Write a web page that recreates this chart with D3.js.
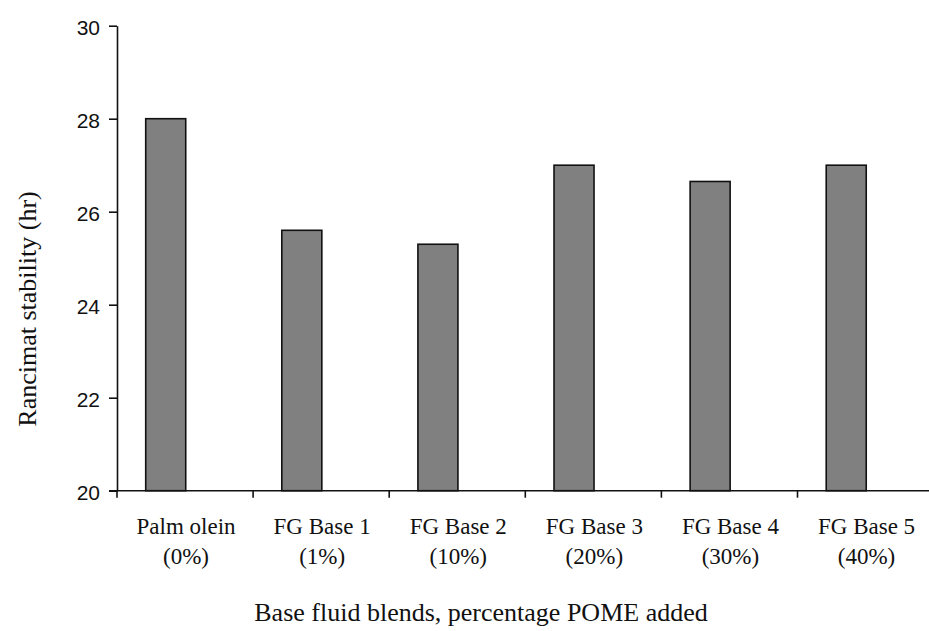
<!DOCTYPE html>
<html>
<head>
<meta charset="utf-8">
<script src="https://cdn.jsdelivr.net/npm/d3@7"></script>
<style>
  html, body { margin: 0; padding: 0; background: #fff; }
  svg { display: block; }
</style>
</head>
<body>
<svg id="chart" width="929" height="631"></svg>
<script>
const categories = ["Palm olein", "FG Base 1", "FG Base 2", "FG Base 3", "FG Base 4", "FG Base 5"];
const subLabels = ["(0%)", "(1%)", "(10%)", "(20%)", "(30%)", "(40%)"];
const values = [28.0, 25.6, 25.3, 27.0, 26.65, 27.0];
const yTicks = [20, 22, 24, 26, 28, 30];

(function () {
const svg = d3.select("#chart");
const mLeft = 117, mRight = 933.6, mTop = 25.7, mBottom = 490.7;

const x = d3.scaleBand().domain(categories).range([mLeft, mRight]).padding(0);
const y = d3.scaleLinear().domain([20, 30]).range([mBottom, mTop]);
const bw = x.bandwidth();

// bars
svg.append("g").selectAll("rect")
  .data(categories)
  .join("rect")
  .attr("x", d => x(d) + bw * 0.211)
  .attr("width", bw * 0.294)
  .attr("y", (d, i) => y(values[i]))
  .attr("height", (d, i) => y(20) - y(values[i]))
  .attr("fill", "#808080")
  .attr("stroke", "#111")
  .attr("stroke-width", 1.6);

// y axis
const yAxis = svg.append("g")
  .attr("transform", `translate(${mLeft},0)`)
  .call(d3.axisLeft(y).tickValues(yTicks).tickSize(8).tickSizeOuter(0).tickPadding(9).tickFormat(d3.format("d")));
yAxis.select(".domain").attr("stroke", "#111").attr("stroke-width", 1.6);
yAxis.selectAll(".tick line").attr("stroke", "#111").attr("stroke-width", 1.6);
yAxis.selectAll(".tick text")
  .attr("font-family", "'Liberation Sans', Arial, sans-serif")
  .attr("font-size", 21)
  .attr("fill", "#111")
  .attr("dy", "0.4em");

// x axis line
svg.append("line")
  .attr("x1", mLeft - 8).attr("x2", mRight)
  .attr("y1", mBottom).attr("y2", mBottom)
  .attr("stroke", "#111").attr("stroke-width", 1.6);

// x ticks at band boundaries
svg.append("g").selectAll("line")
  .data(categories)
  .join("line")
  .attr("x1", d => x(d)).attr("x2", d => x(d))
  .attr("y1", mBottom).attr("y2", mBottom + 7)
  .attr("stroke", "#111").attr("stroke-width", 1.6);

// x tick labels
const lbl = svg.append("g").selectAll("text")
  .data(categories)
  .join("text")
  .attr("x", d => x(d) + bw / 2 + 1)
  .attr("y", 534.3)
  .attr("text-anchor", "middle")
  .attr("font-family", "'Liberation Serif', 'Times New Roman', serif")
  .attr("font-size", 23)
  .attr("fill", "#111");
lbl.append("tspan").attr("x", d => x(d) + bw / 2 + 1).text(d => d);
lbl.append("tspan").attr("x", d => x(d) + bw / 2 + 1).attr("dy", 30).text((d, i) => subLabels[i]);

// axis titles
svg.append("text")
  .attr("x", 481).attr("y", 621)
  .attr("text-anchor", "middle")
  .attr("font-family", "'Liberation Serif', 'Times New Roman', serif")
  .attr("font-size", 26)
  .attr("fill", "#111")
  .text("Base fluid blends, percentage POME added");

svg.append("text")
  .attr("transform", "translate(36,309) rotate(-90)")
  .attr("text-anchor", "middle")
  .attr("font-family", "'Liberation Serif', 'Times New Roman', serif")
  .attr("font-size", 26)
  .attr("fill", "#111")
  .text("Rancimat stability (hr)");
})();
</script>
</body>
</html>
